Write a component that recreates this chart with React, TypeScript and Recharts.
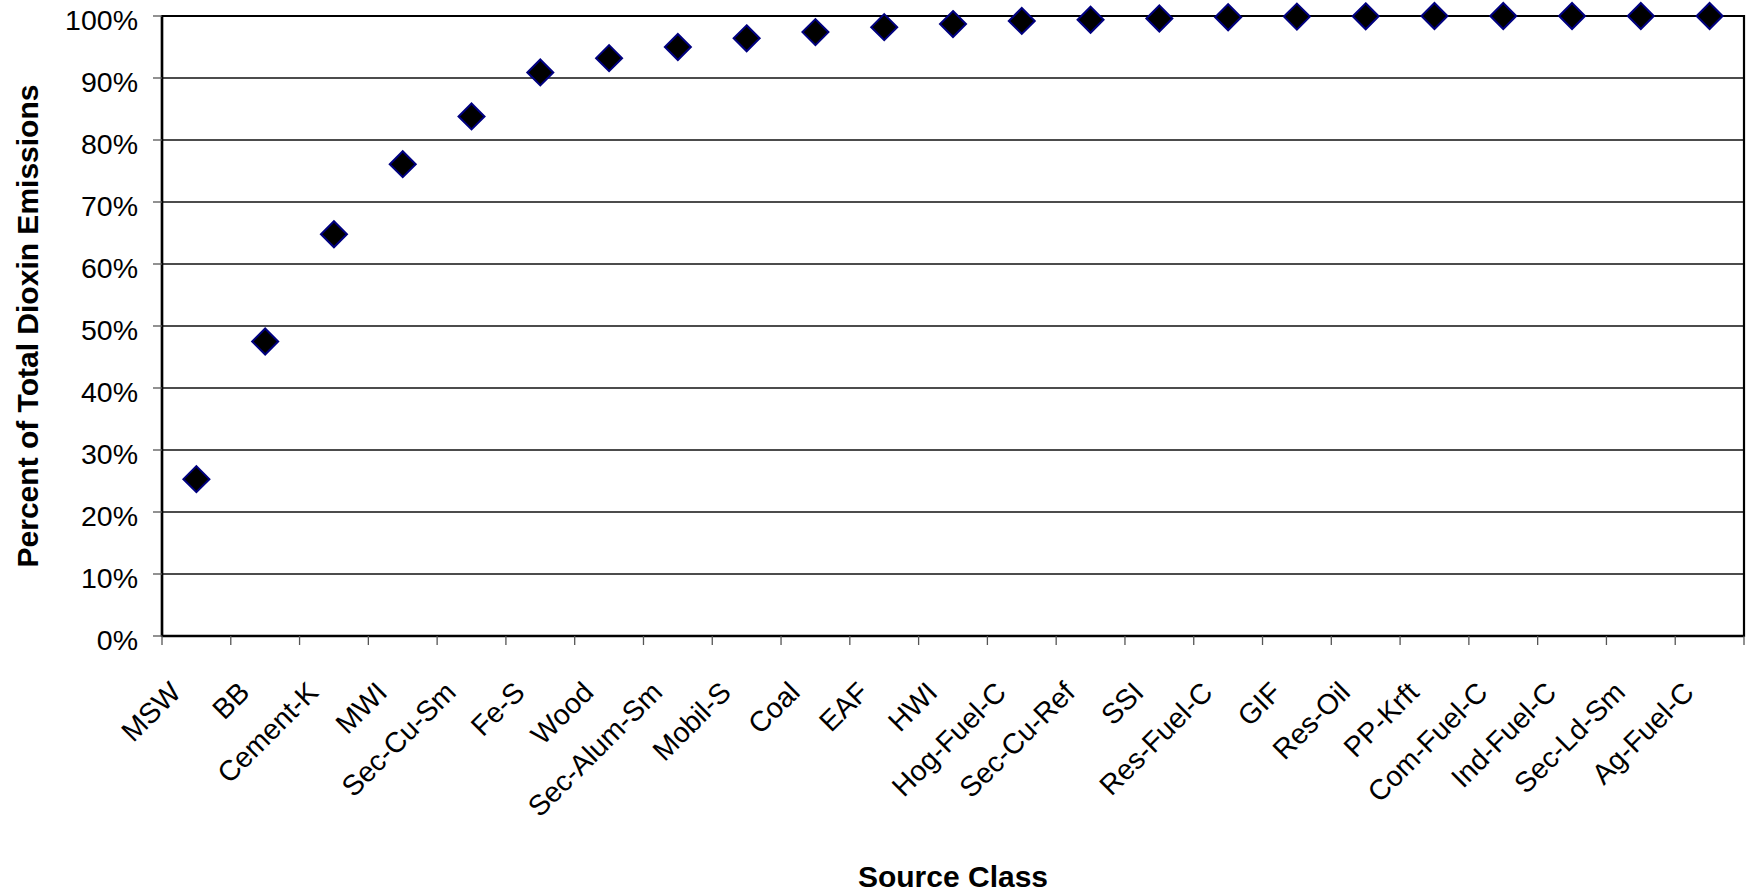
import React from 'react';
import { LineChart, Line, XAxis, YAxis, CartesianGrid, Label, ReferenceArea } from 'recharts';

const categories = [
  'MSW', 'BB', 'Cement-K', 'MWI', 'Sec-Cu-Sm', 'Fe-S', 'Wood', 'Sec-Alum-Sm', 'Mobil-S', 'Coal',
  'EAF', 'HWI', 'Hog-Fuel-C', 'Sec-Cu-Ref', 'SSI', 'Res-Fuel-C', 'GIF', 'Res-Oil', 'PP-Krft',
  'Com-Fuel-C', 'Ind-Fuel-C', 'Sec-Ld-Sm', 'Ag-Fuel-C',
];

const cumulativePercent = [
  25.3, 47.5, 64.8, 76.1, 83.8, 90.9, 93.2, 95.0, 96.4, 97.4,
  98.2, 98.7, 99.2, 99.4, 99.6, 99.8, 99.9, 99.95, 100, 100, 100, 100, 100,
];

const yTicks = [0, 10, 20, 30, 40, 50, 60, 70, 80, 90, 100];

const FONT = '"Liberation Sans", Arial, Helvetica, sans-serif';

const table = categories.map((name, i) => ({ name, idx: i, value: cumulativePercent[i] }));

const xTicks: number[] = [];
for (let i = 0; i <= categories.length; i++) {
  xTicks.push(i - 0.5);
  if (i < categories.length) xTicks.push(i);
}

const Diamond = (props: any) => {
  const { cx, cy } = props;
  if (cx == null || cy == null) return null;
  const r = 13;
  return (
    <polygon
      points={`${cx},${cy - r} ${cx + r},${cy} ${cx},${cy + r} ${cx - r},${cy}`}
      fill="#000"
      stroke="#000080"
      strokeWidth={2}
    />
  );
};

const XTick = (props: any) => {
  const { x, y, payload } = props;
  const v = Number(payload.value);
  if (Math.abs(v - Math.round(v)) > 0.01) {
    return <line x1={x} y1={y} x2={x} y2={y + 9} stroke="#555" strokeWidth={1.3} />;
  }
  const name = categories[Math.round(v)];
  const ax = x - 21;
  const ay = y + 51;
  return (
    <text
      x={ax}
      y={ay}
      transform={`rotate(-45 ${ax} ${ay})`}
      textAnchor="end"
      dominantBaseline="central"
      fontSize={28.5}
      fontFamily={FONT}
      fill="#000"
    >
      {name}
    </text>
  );
};

const YTitle = (p: any) => {
  const vb = p.viewBox || { x: 0, y: 16, width: 162, height: 620 };
  const cx = vb.x + 27;
  const cy = vb.y + vb.height / 2;
  return (
    <text
      x={cx}
      y={cy}
      transform={`rotate(-90 ${cx} ${cy})`}
      textAnchor="middle"
      dominantBaseline="central"
      fontSize={30}
      fontWeight="bold"
      fontFamily={FONT}
      fill="#000"
    >
      Percent of Total Dioxin Emissions
    </text>
  );
};

const XTitle = (p: any) => {
  const vb = p.viewBox || { x: 162, y: 636, width: 1582, height: 259 };
  const cx = vb.x + vb.width / 2;
  const cy = vb.y + vb.height - 8;
  return (
    <text
      x={cx}
      y={cy}
      textAnchor="middle"
      fontSize={30}
      fontWeight="bold"
      fontFamily={FONT}
      fill="#000"
    >
      Source Class
    </text>
  );
};

export default function App() {
  return (
    <div style={{ position: 'absolute', left: 0, top: 0, width: 1760, height: 895, background: '#fff' }}>
      <LineChart
        width={1760}
        height={895}
        data={table}
        margin={{ top: 16, right: 16, bottom: 0, left: 0 }}
      >
        <CartesianGrid horizontal vertical={false} stroke="#111" strokeWidth={1.3} />
        <ReferenceArea
          x1={-0.5}
          x2={categories.length - 0.5}
          y1={0}
          y2={100}
          fill="none"
          fillOpacity={0}
          stroke="#000"
          strokeWidth={2.2}
        />
        <XAxis
          type="number"
          dataKey="idx"
          domain={[-0.5, categories.length - 0.5]}
          ticks={xTicks}
          interval={0}
          tickSize={0}
          tickMargin={0}
          tickLine={false}
          tick={<XTick />}
          axisLine={{ stroke: '#000', strokeWidth: 2.5 }}
          height={259}
        >
          <Label content={<XTitle />} />
        </XAxis>
        <YAxis
          type="number"
          domain={[0, 100]}
          ticks={yTicks}
          interval={0}
          width={162}
          tickSize={9}
          tickMargin={15}
          tickLine={{ stroke: '#555', strokeWidth: 1.3 }}
          axisLine={{ stroke: '#000', strokeWidth: 2.5 }}
          tickFormatter={(v: number) => `${v}%`}
          tick={{ fontSize: 28.5, fontFamily: FONT, fill: '#000', dy: 4 }}
        >
          <Label content={<YTitle />} />
        </YAxis>
        <Line
          dataKey="value"
          stroke="none"
          isAnimationActive={false}
          activeDot={false}
          dot={(p: any) => <Diamond key={`d-${p.index}`} {...p} />}
        />
      </LineChart>
    </div>
  );
}
